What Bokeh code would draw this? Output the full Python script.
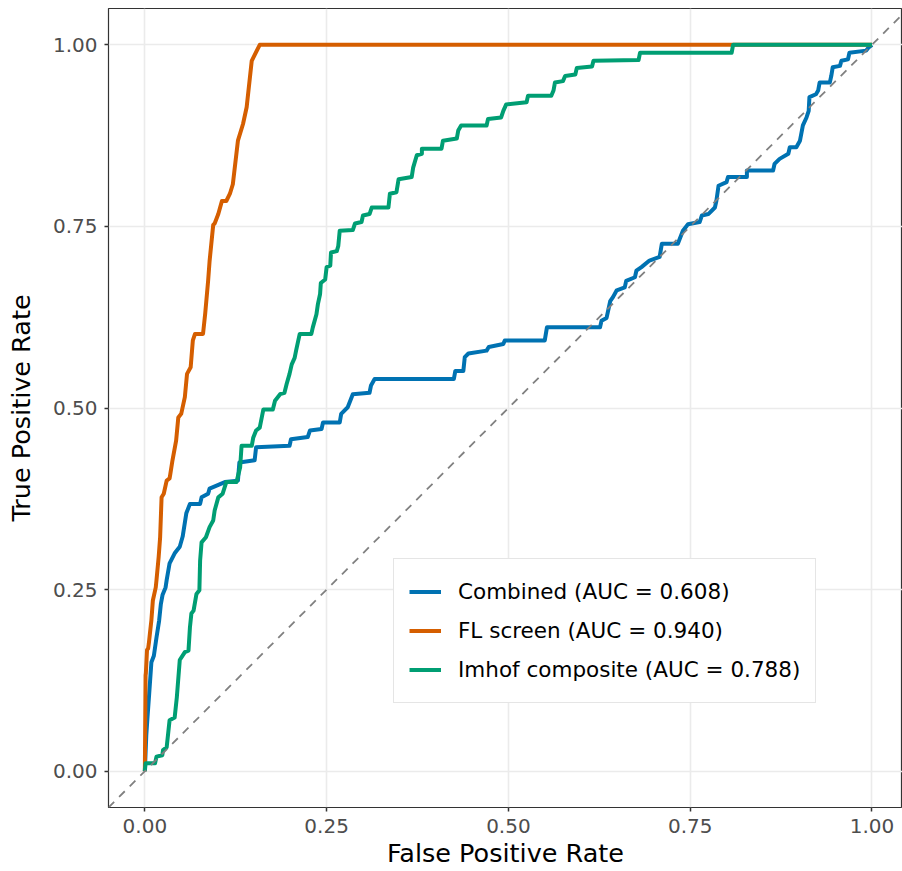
from bokeh.plotting import figure
from bokeh.models import FixedTicker, Slope
from bokeh.embed import file_html
from bokeh.resources import INLINE

# ---- data ----
combined_fpr = [0.0, 0.002, 0.0037, 0.006, 0.009, 0.0124, 0.016, 0.0196, 0.022, 0.0244, 0.0285,
                0.030, 0.034, 0.041, 0.048, 0.052, 0.057, 0.062, 0.076, 0.078, 0.087, 0.089,
                0.110, 0.128, 0.130, 0.151, 0.153, 0.199, 0.201, 0.224, 0.227, 0.243, 0.245,
                0.268, 0.270, 0.279, 0.286, 0.309, 0.311, 0.316, 0.425, 0.427, 0.438, 0.440,
                0.445, 0.470, 0.473, 0.493, 0.495, 0.550, 0.553, 0.626, 0.628, 0.635, 0.640,
                0.644, 0.649, 0.660, 0.662, 0.674, 0.676, 0.683, 0.694, 0.708, 0.711, 0.733,
                0.740, 0.747, 0.763, 0.766, 0.775, 0.784, 0.786, 0.789, 0.800, 0.802, 0.828,
                0.828, 0.864, 0.866, 0.873, 0.885, 0.887, 0.896, 0.901, 0.905, 0.910, 0.913,
                0.914, 0.923, 0.926, 0.928, 0.942, 0.944, 0.946, 0.956, 0.958, 0.967, 0.969,
                0.992, 0.995, 1.0]
combined_tpr = [0.0, 0.05, 0.075, 0.107, 0.150, 0.159, 0.184, 0.207, 0.230, 0.243, 0.253,
                0.263, 0.286, 0.300, 0.309, 0.323, 0.355, 0.368, 0.368, 0.377, 0.382, 0.389,
                0.398, 0.400, 0.425, 0.428, 0.446, 0.448, 0.457, 0.460, 0.469, 0.471, 0.480,
                0.480, 0.492, 0.501, 0.519, 0.521, 0.531, 0.540, 0.540, 0.551, 0.551, 0.570,
                0.575, 0.579, 0.584, 0.588, 0.593, 0.593, 0.611, 0.611, 0.620, 0.624, 0.647,
                0.653, 0.662, 0.666, 0.675, 0.680, 0.689, 0.694, 0.703, 0.708, 0.726, 0.726,
                0.744, 0.753, 0.756, 0.765, 0.767, 0.776, 0.785, 0.806, 0.811, 0.818, 0.818,
                0.827, 0.827, 0.836, 0.843, 0.850, 0.859, 0.859, 0.868, 0.889, 0.900, 0.909,
                0.928, 0.932, 0.937, 0.948, 0.948, 0.957, 0.969, 0.971, 0.978, 0.980, 0.989,
                0.992, 0.996, 1.0]

fl_fpr = [0.0, 0.001, 0.0014, 0.003, 0.0045, 0.0055, 0.007, 0.009, 0.011, 0.015, 0.016, 0.019,
          0.021, 0.023, 0.026, 0.030, 0.034, 0.035, 0.038, 0.043, 0.046, 0.050, 0.055, 0.058,
          0.063, 0.066, 0.069, 0.080, 0.083, 0.087, 0.089, 0.094, 0.096, 0.101, 0.106, 0.112,
          0.117, 0.121, 0.128, 0.135, 0.140, 0.147, 0.158, 1.0]
fl_tpr = [0.0, 0.132, 0.135, 0.167, 0.169, 0.176, 0.190, 0.208, 0.235, 0.253, 0.263, 0.295,
          0.322, 0.377, 0.382, 0.400, 0.403, 0.409, 0.428, 0.455, 0.487, 0.492, 0.515, 0.547,
          0.556, 0.593, 0.602, 0.602, 0.630, 0.675, 0.702, 0.752, 0.754, 0.767, 0.785, 0.785,
          0.795, 0.808, 0.868, 0.891, 0.914, 0.978, 1.0, 1.0]

imhof_fpr = [0.0, 0.001, 0.014, 0.016, 0.024, 0.025, 0.030, 0.034, 0.041, 0.044, 0.048, 0.055,
             0.060, 0.062, 0.064, 0.067, 0.071, 0.075, 0.076, 0.078, 0.084, 0.089, 0.094, 0.096,
             0.101, 0.107, 0.112, 0.126, 0.131, 0.133, 0.147, 0.149, 0.153, 0.158, 0.163, 0.176,
             0.179, 0.186, 0.192, 0.195, 0.199, 0.202, 0.206, 0.208, 0.213, 0.229, 0.231, 0.236,
             0.238, 0.241, 0.242, 0.248, 0.250, 0.255, 0.256, 0.264, 0.266, 0.268, 0.286, 0.289,
             0.298, 0.300, 0.309, 0.312, 0.335, 0.337, 0.346, 0.349, 0.367, 0.369, 0.374, 0.381,
             0.381, 0.408, 0.410, 0.429, 0.431, 0.435, 0.470, 0.472, 0.490, 0.493, 0.497, 0.525,
             0.527, 0.559, 0.562, 0.564, 0.575, 0.578, 0.592, 0.594, 0.615, 0.617, 0.679, 0.681,
             0.807, 0.809, 1.0]
imhof_tpr = [0.0, 0.011, 0.011, 0.020, 0.022, 0.029, 0.033, 0.070, 0.074, 0.102, 0.153, 0.164,
             0.166, 0.198, 0.217, 0.221, 0.244, 0.249, 0.290, 0.315, 0.322, 0.336, 0.345, 0.359,
             0.377, 0.382, 0.398, 0.398, 0.418, 0.448, 0.448, 0.459, 0.469, 0.473, 0.498, 0.498,
             0.510, 0.519, 0.521, 0.533, 0.547, 0.560, 0.569, 0.579, 0.602, 0.602, 0.611, 0.629,
             0.643, 0.657, 0.672, 0.677, 0.694, 0.696, 0.714, 0.716, 0.723, 0.744, 0.745, 0.754,
             0.756, 0.765, 0.767, 0.776, 0.776, 0.795, 0.797, 0.815, 0.818, 0.831, 0.848, 0.850,
             0.857, 0.857, 0.868, 0.871, 0.882, 0.889, 0.889, 0.898, 0.900, 0.909, 0.918, 0.921,
             0.930, 0.930, 0.937, 0.948, 0.950, 0.957, 0.959, 0.968, 0.970, 0.978, 0.979, 0.989,
             0.989, 1.0, 1.0]

series_labels = ["Combined (AUC = 0.608)", "FL screen (AUC = 0.940)", "Imhof composite (AUC = 0.788)"]
series_colors = ["#0072B2", "#D55E00", "#009E73"]
tick_values = [0.0, 0.25, 0.5, 0.75, 1.0]
tick_labels = ["0.00", "0.25", "0.50", "0.75", "1.00"]

FONT = "DejaVu Sans"

p = figure(width=902, height=871, output_backend="svg", toolbar_location=None,
           x_range=(-0.05, 1.042), y_range=(-0.05, 1.05),
           min_border_left=108, min_border_right=0, min_border_top=8, min_border_bottom=64)
p.background_fill_color = "white"
p.border_fill_color = "white"
p.outline_line_color = "#333333"
p.outline_line_width = 1.2

for ax in (p.xaxis[0], p.yaxis[0]):
    ax.ticker = FixedTicker(ticks=tick_values)
    ax.major_label_overrides = {v: l for v, l in zip(tick_values, tick_labels)}
    ax.minor_tick_line_color = None
    ax.major_tick_in = 0
    ax.major_tick_out = 4
    ax.major_tick_line_color = "#333333"
    ax.major_tick_line_width = 1.5
    ax.axis_line_color = None
    ax.major_label_text_font = FONT
    ax.major_label_text_font_size = "20px"
    ax.major_label_text_color = "#4d4d4d"
    ax.axis_label_text_font = FONT
    ax.axis_label_text_font_size = "25.5px"
    ax.axis_label_text_font_style = "normal"
    ax.axis_label_text_color = "black"

p.xaxis.axis_label = "False Positive Rate"
p.yaxis.axis_label = "True Positive Rate"
p.xaxis.major_label_standoff = 7
p.xaxis.axis_label_standoff = 2
p.yaxis.major_label_standoff = 7
p.yaxis.axis_label_standoff = 14

for g in (p.xgrid[0], p.ygrid[0]):
    g.ticker = FixedTicker(ticks=tick_values)
    g.grid_line_color = "#ebebeb"
    g.grid_line_width = 1.6

p.add_layout(Slope(gradient=1, y_intercept=0, line_color="#808080",
                   line_width=1.8, line_dash="8 7"))

xs = [combined_fpr, fl_fpr, imhof_fpr]
ys = [combined_tpr, fl_tpr, imhof_tpr]
for x, y, lab, col in zip(xs, ys, series_labels, series_colors):
    p.line(x, y, line_color=col, line_width=4, legend_label=lab, line_join="round")

leg = p.legend[0]
leg.location = (285, 104)
leg.label_text_font = FONT
leg.label_text_font_size = "21.5px"
leg.label_text_color = "black"
leg.glyph_width = 32
leg.glyph_height = 35
leg.label_height = 35
leg.label_standoff = 17
leg.spacing = 4
leg.padding = 15
leg.margin = 0
leg.border_line_color = "#cccccc"
leg.border_line_width = 1.5
leg.background_fill_color = "white"
leg.background_fill_alpha = 1.0

open("out.html", "w").write(file_html(p, INLINE))
